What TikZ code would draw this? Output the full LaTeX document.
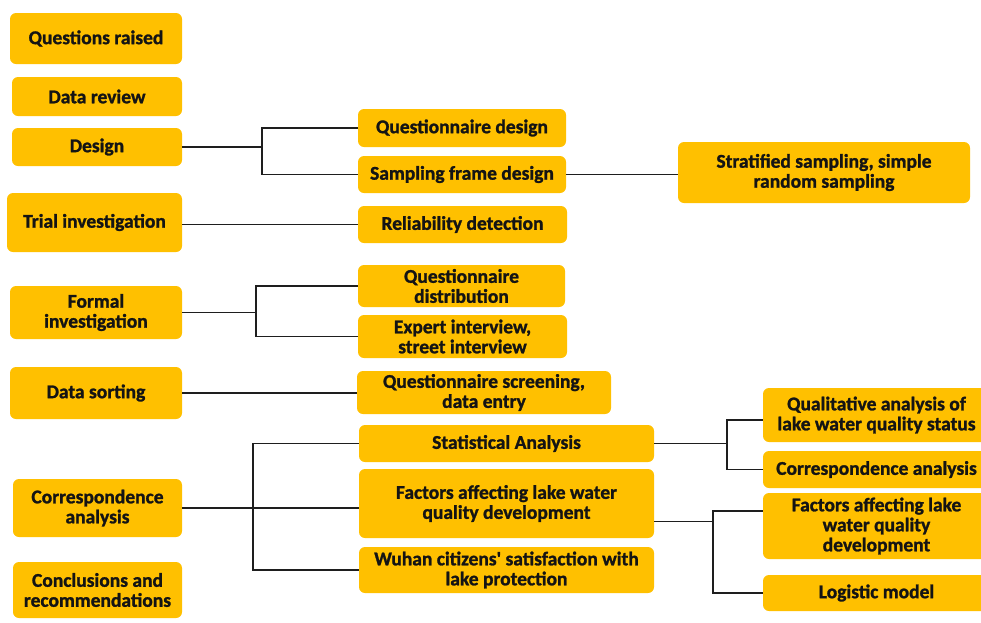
\documentclass[tikz,border=0pt]{standalone}
\usepackage{fontspec}
\setmainfont[BoldFeatures={FakeBold=1.3}]{Carlito}
\definecolor{boxgold}{HTML}{FFC000}
\definecolor{txtdark}{HTML}{141414}
\definecolor{linedark}{HTML}{1E1E1E}
\begin{document}
\begin{tikzpicture}[x=1pt,y=-1pt,
  box/.style={fill=boxgold,draw=none,rounded corners=6pt,align=center,
    text=txtdark,font=\bfseries\fontsize{19.5}{20}\selectfont,inner sep=2pt},
  conn/.style={draw=linedark,line width=1.5pt}]
\useasboundingbox (0,0) rectangle (981,622);
% left column
\node[box,minimum width=172,minimum height=51] (qr) at (96,38.5) {Questions raised};
\node[box,minimum width=170,minimum height=39] (dr) at (97,96.5) {Data review};
\node[box,minimum width=170,minimum height=38] (design) at (97,147) {Design};
\node[box,minimum width=175,minimum height=59] (trial) at (94.5,222.5) {Trial investigation};
\node[box,minimum width=172,minimum height=53] (formal) at (96,312.5) {Formal\\investigation};
\node[box,minimum width=172,minimum height=52] (sorting) at (96,393) {Data sorting};
\node[box,minimum width=169,minimum height=58] (corr) at (97.5,508) {Correspondence\\analysis};
\node[box,minimum width=169,minimum height=56] (concl) at (97.5,590) {Conclusions and\\recommendations};
% middle column
\node[box,minimum width=208,minimum height=38] (qd) at (462,128) {Questionnaire design};
\node[box,minimum width=208,minimum height=37] (sfd) at (462,174.5) {Sampling frame design};
\node[box,minimum width=209,minimum height=37] (rel) at (462.5,224.5) {Reliability detection};
\node[box,minimum width=207,minimum height=42] (qdist) at (461.5,286) {Questionnaire\\distribution};
\node[box,minimum width=209,minimum height=43] (expert) at (462.5,336.5) {Expert interview,\\street interview};
\node[box,minimum width=254,minimum height=43] (screen) at (484,392.5) {Questionnaire screening,\\data entry};
\node[box,minimum width=295,minimum height=37] (stat) at (506.5,443.5) {Statistical Analysis};
\node[box,minimum width=295,minimum height=69] (factors) at (506.5,503.5) {Factors affecting lake water\\quality development};
\node[box,minimum width=295,minimum height=46] (wuhan) at (506.5,570) {Wuhan citizens\textquotesingle\ satisfaction with\\lake protection};
% right column
\node[box,minimum width=292,minimum height=61] (strat) at (824,172.5) {Stratified sampling, simple\\random sampling};
\node[box,minimum width=227,minimum height=54] (qual) at (876.5,415) {Qualitative analysis of\\lake water quality status};
\node[box,minimum width=227,minimum height=37] (corrR) at (876.5,469.5) {Correspondence analysis};
\node[box,minimum width=227,minimum height=66] (fr) at (876.5,526) {Factors affecting lake\\water quality\\development};
\node[box,minimum width=227,minimum height=36] (logit) at (876.5,593) {Logistic model};
% bus positions and offset ports
\coordinate (b1) at (262,0);
\coordinate (b2) at (256,0);
\coordinate (b3) at (253,0);
\coordinate (b4) at (727,0);
\coordinate (b5) at (713,0);
\coordinate (qualin) at ([yshift=-5pt]qual.west);
\coordinate (factout) at ([yshift=-18pt]factors.east);
\coordinate (frin) at ([yshift=15pt]fr.west);
% connectors
\draw[conn] (design.east) -- (b1 |- design.east);
\draw[conn] (qd.west) -- (b1 |- qd.west) -- (b1 |- sfd.west) -- (sfd.west);
\draw[conn] (sfd.east) -- (strat.west |- sfd.east);
\draw[conn] (trial.east |- rel.west) -- (rel.west);
\draw[conn] (formal.east) -- (b2 |- formal.east);
\draw[conn] (qdist.west) -- (b2 |- qdist.west) -- (b2 |- expert.west) -- (expert.west);
\draw[conn] (sorting.east) -- (screen.west |- sorting.east);
\draw[conn] (corr.east) -- (factors.west |- corr.east);
\draw[conn] (stat.west) -- (b3 |- stat.west) -- (b3 |- wuhan.west) -- (wuhan.west);
\draw[conn] (stat.east) -- (b4 |- stat.east);
\draw[conn] (qualin) -- (b4 |- qualin) -- (b4 |- corrR.west) -- (corrR.west);
\draw[conn] (factout) -- (b5 |- factout);
\draw[conn] (frin) -- (b5 |- frin) -- (b5 |- logit.west) -- (logit.west);
\end{tikzpicture}
\end{document}
